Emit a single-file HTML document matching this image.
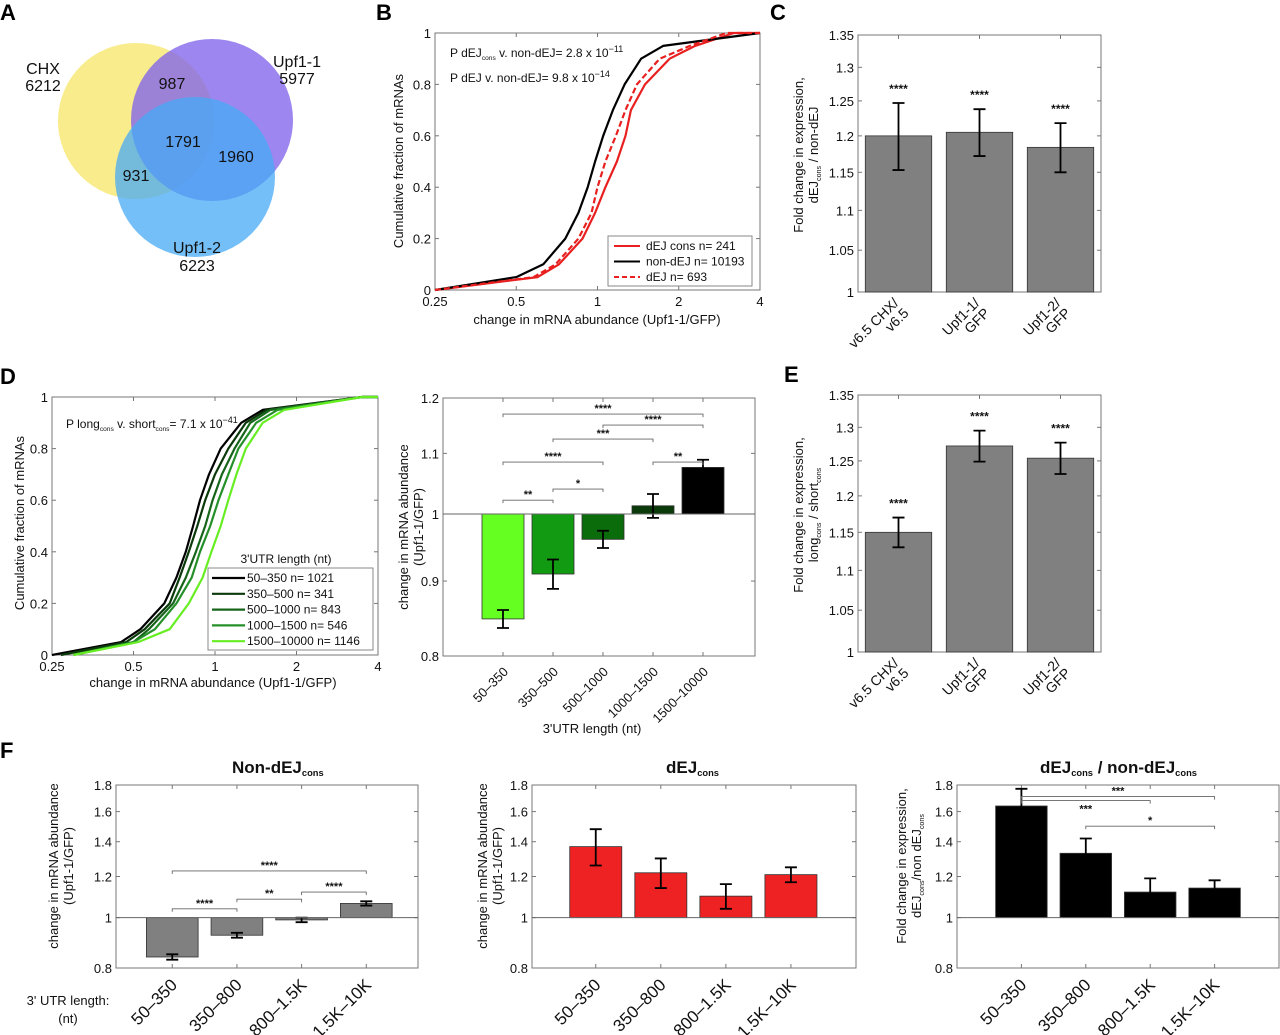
<!DOCTYPE html>
<html><head><meta charset="utf-8"><style>
html,body{margin:0;padding:0;background:#fff}
svg{display:block;font-family:"Liberation Sans",Arial,sans-serif}
</style></head><body>
<svg id="fig" width="1280" height="1035" viewBox="0 0 1280 1035">
<g id="venn">
 <circle cx="136" cy="121" r="78" fill="rgb(249,236,140)"/>
 <circle cx="212" cy="120" r="81" fill="rgb(130,100,235)" fill-opacity="0.78"/>
 <circle cx="195" cy="177" r="80" fill="rgb(70,170,245)" fill-opacity="0.75"/>
 <g font-size="16" text-anchor="middle" fill="#111">
  <text x="43" y="74">CHX</text>
  <text x="43" y="91">6212</text>
  <text x="297" y="67">Upf1-1</text>
  <text x="297" y="84">5977</text>
  <text x="197" y="253">Upf1-2</text>
  <text x="197" y="271">6223</text>
  <text x="172" y="89">987</text>
  <text x="183" y="147">1791</text>
  <text x="236" y="162">1960</text>
  <text x="136" y="181">931</text>
 </g>
</g>
<g font-size="22" font-weight="bold" fill="#000">
 <text x="0" y="20">A</text>
 <text x="376" y="20">B</text>
 <text x="770" y="20">C</text>
 <text x="0" y="384">D</text>
 <text x="784" y="382">E</text>
 <text x="0" y="758">F</text>
</g>
</svg>
<script>
// ---------- DATA ----------
const cdfLevels = [0,0.05,0.1,0.2,0.3,0.4,0.5,0.6,0.7,0.8,0.9,0.95,1];
const bNonDEJ   = [0.25,0.5,0.63,0.76,0.85,0.92,0.98,1.05,1.14,1.26,1.45,1.75,4];
const bDEJcons  = [0.25,0.6,0.72,0.88,0.98,1.07,1.18,1.27,1.33,1.5,1.85,2.3,3.2];
const bDEJ      = [0.25,0.58,0.7,0.85,0.95,1.0,1.07,1.17,1.27,1.4,1.7,2.2,3];
const bXTicks = [0.25,0.5,1,2,4];
const bYTicks = [0,0.2,0.4,0.6,0.8,1];

const dSeries = [
 [0.25,0.45,0.53,0.65,0.72,0.78,0.83,0.88,0.95,1.05,1.25,1.5,3.5],
 [0.27,0.47,0.55,0.68,0.74,0.8,0.86,0.92,1.0,1.12,1.3,1.55,3.5],
 [0.3,0.5,0.57,0.7,0.78,0.85,0.92,0.98,1.06,1.18,1.35,1.6,3.5],
 [0.3,0.5,0.6,0.72,0.82,0.88,0.96,1.03,1.12,1.22,1.42,1.7,3.5],
 [0.3,0.52,0.68,0.8,0.9,0.97,1.05,1.12,1.2,1.3,1.5,1.8,3.5]];
const dLegend = ["50\u2013350 n= 1021","350\u2013500 n= 341","500\u20131000 n= 843","1000\u20131500 n= 546","1500\u201310000 n= 1146"];
const dColors = ["#000","#0b3a0b","#17651a","#25902a","#66ee22"];

const cCats = ["v6.5 CHX/|v6.5","Upf1-1/|GFP","Upf1-2/|GFP"];
const cVals = [1.2,1.205,1.184];
const cErrs = [0.047,0.033,0.034];
const ceTicks = [1,1.05,1.1,1.15,1.2,1.25,1.3,1.35];

const dbCats = ["50\u2013350","350\u2013500","500\u20131000","1000\u20131500","1500\u201310000"];
const dbVals = [0.848,0.91,0.961,1.013,1.076];
const dbErrs = [0.012,0.021,0.013,0.019,0.013];
const dbColors = ["#66ff22","#129a12","#0b6c0b","#0a3a0a","#000"];
const dbTicks = [0.8,0.9,1,1.1,1.2];
const dbSig = [[1,5,1.17,"****"],[3,5,1.15,"****"],[2,4,1.125,"***"],[1,3,1.085,"****"],[4,5,1.085,"**"],[2,3,1.04,"*"],[1,2,1.022,"**"]];

const eVals = [1.15,1.272,1.254];
const eErrs = [0.02,0.023,0.023];

const fCats = ["50\u2013350","350\u2013800","800\u20131.5K","1.5K\u201310K"];
const fTicks = [0.8,1,1.2,1.4,1.6,1.8];
const f1Vals = [0.84,0.925,0.99,1.065];
const f1Errs = [0.01,0.01,0.01,0.01];
const f1Sig = [[1,4,1.23,"****"],[3,4,1.12,"****"],[2,3,1.085,"**"],[1,2,1.04,"****"]];
const f2Vals = [1.37,1.22,1.1,1.21];
const f2Errs = [0.11,0.08,0.06,0.04];
const f3Vals = [1.64,1.33,1.12,1.14];
const f3Errs = [0.13,0.09,0.07,0.04];
const f3Sig = [[1,4,1.71,"***"],[1,3,1.68,"***"],[2,4,1.5,"*"]];

// ---------- HELPERS ----------
const NS="http://www.w3.org/2000/svg";
const svg=document.getElementById('fig');
function mk(tag,attrs,parent){const e=document.createElementNS(NS,tag);for(const k in attrs)e.setAttribute(k,attrs[k]);(parent||svg).appendChild(e);return e;}
function logScale(lo,hi,a,b){return v=>a+(Math.log(v)-Math.log(lo))/(Math.log(hi)-Math.log(lo))*(b-a);}
function linScale(lo,hi,a,b){return v=>a+(v-lo)/(hi-lo)*(b-a);}
function txt(parent,x,y,s,size,anchor){const t=mk('text',{x:x,y:y,'font-size':size||13,'text-anchor':anchor||'middle',fill:'#111'},parent);t.textContent=s;return t;}
function subText(parent,x,y,parts,size,anchor,rot){
 const t=mk('text',{x:x,y:y,'font-size':size,'text-anchor':anchor||'start',fill:'#111'},parent);
 if(rot)t.setAttribute('transform','rotate('+rot+' '+x+' '+y+')');
 parts.forEach(p=>{const ts=mk('tspan',{},t);ts.textContent=p[0];
  if(p[1]==='sub'){ts.setAttribute('font-size',size*0.55);ts.setAttribute('dy',3);}
  else if(p[1]==='sup'){ts.setAttribute('font-size',size*0.75);ts.setAttribute('dy',-5);}
  else if(p[1]==='back'){ts.setAttribute('dy',p[2]);}
 });return t;}
function frame(g,x0,y0,x1,y1){mk('rect',{x:x0,y:y0,width:x1-x0,height:y1-y0,fill:'none',stroke:'#777','stroke-width':1},g);}
function yTicks(g,ticks,sy,x0,x1,fmt){ticks.forEach(v=>{const y=sy(v);
 mk('line',{x1:x0,y1:y,x2:x0+4,y2:y,stroke:'#777'},g);mk('line',{x1:x1,y1:y,x2:x1-4,y2:y,stroke:'#777'},g);
 txt(g,x0-4,y+5,fmt?fmt(v):String(v),13,'end');});}

// ---------- CDF PANELS ----------
function cdfPanel(name,box,series,colors,dashes){
 const g=mk('g',{});
 
 
 const sx=logScale(0.25,4,box[0],box[2]); const sy=linScale(0,1,box[3],box[1]);
 frame(g,box[0],box[1],box[2],box[3]);
 bXTicks.forEach(v=>{const x=sx(v);mk('line',{x1:x,y1:box[3],x2:x,y2:box[3]-4,stroke:'#777'},g);mk('line',{x1:x,y1:box[1],x2:x,y2:box[1]+4,stroke:'#777'},g);txt(g,x,box[3]+16,String(v),13);});
 yTicks(g,bYTicks,sy,box[0],box[2]);
 series.forEach((s,i)=>{
  const pts=s.map((xv,k)=>sx(Math.min(4,Math.max(0.25,xv))).toFixed(1)+','+sy(cdfLevels[k]).toFixed(1));
  pts.push(sx(4)+','+sy(1));
  const p=mk('polyline',{points:pts.join(' '),fill:'none',stroke:colors[i],'stroke-width':2.2,'stroke-linejoin':'round'},g);
  if(dashes&&dashes[i])p.setAttribute('stroke-dasharray',dashes[i]);
  
  
 });
 return g;
}
// Panel B
const gB=cdfPanel('panel-b-cdf',[435,33,760,290],[bDEJcons,bNonDEJ,bDEJ],['#e82020','#000','#e82020'],[null,null,'6,3']);
txt(gB,597,324,'change in mRNA abundance (Upf1-1/GFP)',13);
txt(gB,0,0,'Cumulative fraction of mRNAs',13).setAttribute('transform','translate(403,161) rotate(-90)');
subText(gB,450,57,[['P dEJ'],['cons','sub'],[' v. non-dEJ= 2.8 x 10','back',-3],['\u221211','sup']],12);
subText(gB,450,82,[['P dEJ v. non-dEJ= 9.8 x 10'],['\u221214','sup']],12);
{const lg=mk('g',{},gB);
 
 
 mk('rect',{x:608,y:236,width:144,height:50,fill:'#fff',stroke:'#888'},lg);
 const labs=['dEJ cons n= 241','non-dEJ n= 10193','dEJ n= 693'],cols=['#e82020','#000','#e82020'];
 labs.forEach((l,i)=>{const y=246+i*15.5;const ln=mk('line',{x1:614,y1:y,x2:640,y2:y,stroke:cols[i],'stroke-width':2},lg);if(i===2)ln.setAttribute('stroke-dasharray','5,3');txt(lg,646,y+4,l,12,'start');});}

// Panel D CDF
const gD=cdfPanel('panel-d-cdf',[52,397,378,655],dSeries,dColors);
txt(gD,213,687,'change in mRNA abundance (Upf1-1/GFP)',13);
txt(gD,0,0,'Cumulative fraction of mRNAs',13).setAttribute('transform','translate(24,523) rotate(-90)');
subText(gD,66,428,[['P  long'],['cons','sub'],[' v. short','back',-3],['cons','sub'],['= 7.1 x 10','back',-3],['\u221241','sup']],12);
{const lg=mk('g',{},gD);
 
 
 txt(lg,286,563,"3'UTR length (nt)",12);
 mk('rect',{x:208,y:568,width:165,height:82,fill:'#fff',stroke:'#888'},lg);
 dLegend.forEach((l,i)=>{const y=578+i*15.8;mk('line',{x1:212,y1:y,x2:245,y2:y,stroke:dColors[i],'stroke-width':2.2},lg);txt(lg,247,y+4,l,12,'start');});}

// ---------- BAR PANELS ----------
function barPanel(o){
 const g=mk('g',{});
 
 
 const b=o.box;
 const sy=logScale(o.ylo,o.yhi,b[3],b[1]);
 const sx=linScale(o.xlim[0],o.xlim[1],b[0],b[2]);
 frame(g,b[0],b[1],b[2],b[3]);
 yTicks(g,o.ticks,sy,b[0],b[2]);
 const step=sx(2)-sx(1), bw=step*o.bw;
 const cs=o.catSize||13;
 o.vals.forEach((v,i)=>{
  const cx=sx(i+1);
  mk('line',{x1:cx,y1:b[1],x2:cx,y2:b[1]+4,stroke:'#777'},g);
  mk('line',{x1:cx,y1:b[3],x2:cx,y2:b[3]-4,stroke:'#777'},g);
  const y1=sy(Math.max(v,1)),y2=sy(Math.min(v,1));
  const r=mk('rect',{x:cx-bw/2,y:y1,width:bw,height:Math.max(1,y2-y1),fill:o.colors[i],stroke:'#333','stroke-width':0.8},g);
  
  
  const e=o.errs[i],top=sy(v+e),bot=sy(v-e);
  mk('path',{d:`M${cx},${top}V${bot}M${cx-6},${top}h12M${cx-6},${bot}h12`,stroke:'#000','stroke-width':1.8,fill:'none'},g);
  if(o.stars){txt(g,cx,top-10,o.stars[i],12).setAttribute('font-weight','bold');}
  const lines=o.cats[i].split('|');
  const n=lines.length;
  lines.forEach((l,k)=>{const off=(k-(n-1)/2)*cs*0.72;const tx=cx+6+off,ty=b[3]+12+cs*0.35+off;const t=txt(g,tx,ty,l,cs,'end');t.setAttribute('transform',`rotate(-45 ${tx} ${ty})`);});
 });
 if(o.base)mk('line',{x1:b[0],y1:sy(1),x2:b[2],y2:sy(1),stroke:'#666'},g);
 (o.sig||[]).forEach(s=>{const xa=sx(s[0]),xb=sx(s[1]),y=sy(s[2]);
  mk('path',{d:`M${xa},${y+3}V${y}H${xb}V${y+3}`,stroke:'#666',fill:'none','stroke-width':0.9},g);
  const t=txt(g,(xa+xb)/2,s[4]?y+12:y-2,s[3],11);t.setAttribute('font-weight','bold');});
 return {g,sx,sy};
}
// Panel C
const pC=barPanel({name:'panel-c-bars',box:[858,35,1101,292],xlim:[0.5,3.5],ylo:1,yhi:1.35,ticks:ceTicks,vals:cVals,errs:cErrs,bw:0.82,colors:['#808080','#808080','#808080'],cats:cCats,stars:['****','****','****'],catSize:14});
txt(pC.g,0,0,'Fold change in expression,',13).setAttribute('transform','translate(803,155) rotate(-90)');
subText(pC.g,818,155,[['dEJ'],['cons','sub'],[' / non-dEJ','back',-3]],13,'middle',-90);
// Panel E
const pE=barPanel({name:'panel-e-bars',box:[858,395,1101,652],xlim:[0.5,3.5],ylo:1,yhi:1.35,ticks:ceTicks,vals:eVals,errs:eErrs,bw:0.82,colors:['#808080','#808080','#808080'],cats:cCats,stars:['****','****','****'],catSize:14});
txt(pE.g,0,0,'Fold change in expression,',13).setAttribute('transform','translate(803,515) rotate(-90)');
subText(pE.g,818,515,[['long'],['cons','sub'],[' / short','back',-3],['cons','sub']],13,'middle',-90);
// Panel D bars
const pDb=barPanel({name:'panel-d-bars',box:[443,398,755,656],xlim:[-0.2,6.04],ylo:0.8,yhi:1.2,ticks:dbTicks,vals:dbVals,errs:dbErrs,bw:0.84,colors:dbColors,cats:dbCats,sig:dbSig,base:true,catSize:13});
txt(pDb.g,0,0,'change in mRNA abundance',13).setAttribute('transform','translate(408,527) rotate(-90)');
txt(pDb.g,0,0,'(Upf1-1/GFP)',13).setAttribute('transform','translate(423,527) rotate(-90)');
txt(pDb.g,592,733,"3'UTR length (nt)",13);
// Panel F
const f3s=f3Sig.map((s,i)=>i===1?s.concat([1]):s);
const pF1=barPanel({name:'panel-f-non-dej',box:[116,785,418,968],xlim:[0.13,4.8],ylo:0.8,yhi:1.8,ticks:fTicks,vals:f1Vals,errs:f1Errs,bw:0.8,colors:['#808080','#808080','#808080','#808080'],cats:fCats,sig:f1Sig,base:true,catSize:17});
const pF2=barPanel({name:'panel-f-dej',box:[532,785,856,968],xlim:[0.02,5],ylo:0.8,yhi:1.8,ticks:fTicks,vals:f2Vals,errs:f2Errs,bw:0.8,colors:['#ee2222','#ee2222','#ee2222','#ee2222'],cats:fCats,base:true,catSize:17});
const pF3=barPanel({name:'panel-f-ratio',box:[957,785,1279,968],xlim:[0,5],ylo:0.8,yhi:1.8,ticks:fTicks,vals:f3Vals,errs:f3Errs,bw:0.8,colors:['#000','#000','#000','#000'],cats:fCats,sig:f3s,base:true,catSize:17});
subText(pF1.g,232,773,[['Non-dEJ'],['cons','sub']],17,'start').setAttribute('font-weight','bold');
subText(pF2.g,666,773,[['dEJ'],['cons','sub']],17,'start').setAttribute('font-weight','bold');
subText(pF3.g,1040,773,[['dEJ'],['cons','sub'],[' / non-dEJ','back',-3],['cons','sub']],17,'start').setAttribute('font-weight','bold');
[[pF1,58,73],[pF2,487,502]].forEach(a=>{
 txt(a[0].g,0,0,'change in mRNA abundance',13).setAttribute('transform',`translate(${a[1]},866) rotate(-90)`);
 txt(a[0].g,0,0,'(Upf1-1/GFP)',13).setAttribute('transform',`translate(${a[2]},866) rotate(-90)`);});
txt(pF3.g,0,0,'Fold change in expression,',13).setAttribute('transform','translate(906,866) rotate(-90)');
subText(pF3.g,921,866,[['dEJ'],['cons','sub'],['/non dEJ','back',-3],['cons','sub']],13,'middle',-90);
txt(pF1.g,68,1005,"3' UTR length:",13);
txt(pF1.g,68,1023,"(nt)",13);
</script>
</body></html>
